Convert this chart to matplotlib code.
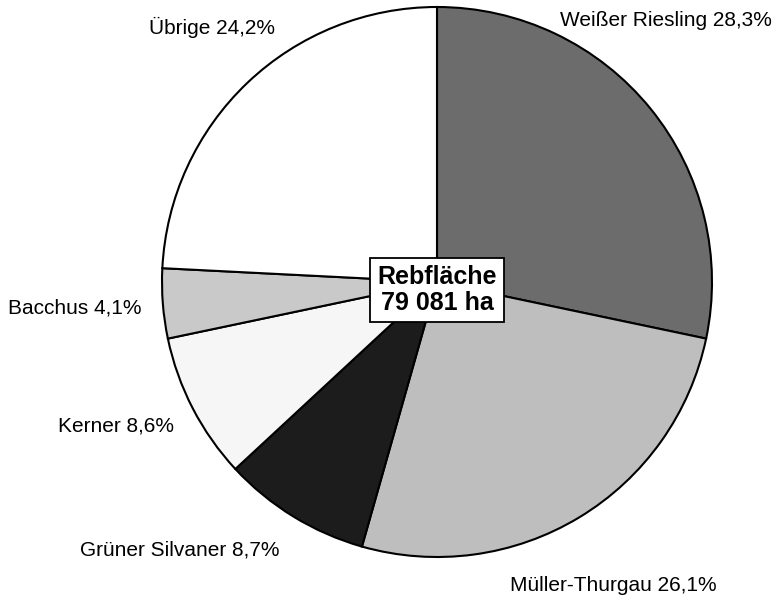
import matplotlib
matplotlib.use('Agg')
import matplotlib.pyplot as plt

# ── Data: Rebsortenanteile an der Rebfläche ──
varieties = ['Weißer Riesling', 'Müller-Thurgau', 'Grüner Silvaner',
             'Kerner', 'Bacchus', 'Übrige']
shares = [28.3, 26.1, 8.7, 8.6, 4.1, 24.2]
total_label = 'Rebfläche\n79 081 ha'

# greyscale fills (scan look)
colors = ['#6c6c6c', '#bebebe', '#1c1c1c', '#f6f6f6', '#c9c9c9', '#ffffff']

# label anchor points in pixels (x centre, baseline from top)
label_pos = [(666, 26), (613, 591), (180, 555), (116, 432), (75, 314), (212, 34)]

W, H = 777, 599
plt.rcParams['font.family'] = ['Liberation Sans', 'DejaVu Sans']

fig = plt.figure(figsize=(W / 100, H / 100), dpi=100)
ax = fig.add_axes([0, 0, 1, 1])

ax.pie(shares, colors=colors, startangle=90, counterclock=False,
       center=(437, H - 282), radius=275, frame=True,
       wedgeprops=dict(edgecolor='black', linewidth=1.5))
ax.set_xlim(0, W)
ax.set_ylim(0, H)
ax.set_aspect('equal')
ax.axis('off')

for name, val, (x, y) in zip(varieties, shares, label_pos):
    txt = f'{name} {val:.1f}%'.replace('.', ',')
    ax.text(x, H - y, txt, ha='center', va='baseline', fontsize=15)

ax.text(437, H - 290, total_label, ha='center', va='center',
        fontsize=18, fontweight='bold', linespacing=1.1,
        bbox=dict(boxstyle='square,pad=0.3', facecolor='white',
                  edgecolor='black', linewidth=1.3))

fig.savefig('out.png', dpi=100)
